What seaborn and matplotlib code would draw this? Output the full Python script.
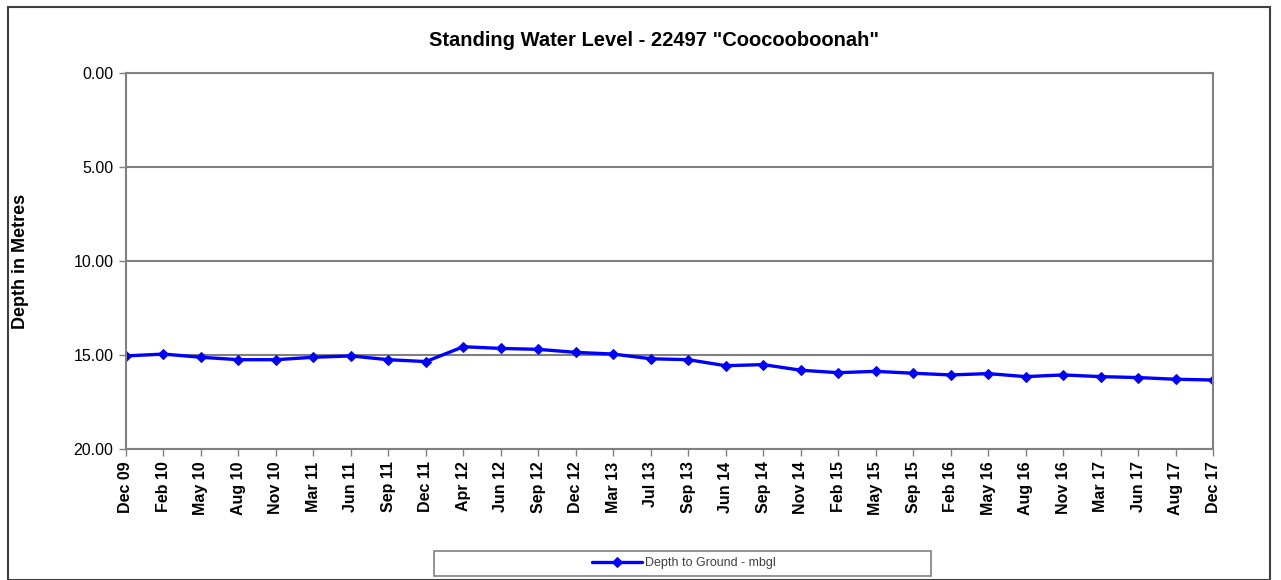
import numpy as np
import pandas as pd
import seaborn as sns
import matplotlib.pyplot as plt
from matplotlib.patches import Rectangle

# survey dates (category labels on the x axis)
dates = ["Dec 09", "Feb 10", "May 10", "Aug 10", "Nov 10", "Mar 11", "Jun 11",
         "Sep 11", "Dec 11", "Apr 12", "Jun 12", "Sep 12", "Dec 12", "Mar 13",
         "Jul 13", "Sep 13", "Jun 14", "Sep 14", "Nov 14", "Feb 15", "May 15",
         "Sep 15", "Feb 16", "May 16", "Aug 16", "Nov 16", "Mar 17", "Jun 17",
         "Aug 17", "Dec 17"]

# depth to ground in metres below ground level
depth = [15.05, 14.95, 15.12, 15.25, 15.25, 15.12, 15.05, 15.25, 15.35, 14.56,
         14.65, 14.70, 14.86, 14.95, 15.20, 15.25, 15.57, 15.51, 15.81, 15.94,
         15.87, 15.97, 16.06, 15.99, 16.15, 16.06, 16.15, 16.20, 16.29, 16.33]

y_ticks = [0, 5, 10, 15, 20]

df = pd.DataFrame({"pos": np.arange(len(dates)), "depth": depth})

sns.set_style("white")
plt.rcParams["font.family"] = ["Liberation Sans", "DejaVu Sans"]
plt.rcParams["text.color"] = "black"
plt.rcParams["xtick.color"] = "black"
plt.rcParams["ytick.color"] = "black"
plt.rcParams["axes.labelcolor"] = "black"

fig = plt.figure(figsize=(12.81, 5.80), dpi=100)
ax = fig.add_axes([126 / 1281, 1 - 449 / 580, 1087 / 1281, 376 / 580])

sns.lineplot(data=df, x="pos", y="depth", ax=ax, color="#0000FF", lw=2.4,
             marker="D", markersize=5.5, markeredgecolor="#0000FF",
             label="Depth to Ground - mbgl", legend=False)

ax.set_xlim(0, len(dates) - 1)
ax.set_ylim(20, 0)
ax.set_xticks(np.arange(len(dates)))
ax.set_xticklabels(dates, rotation=90, fontsize=11.5, fontweight="bold")
ax.set_yticks(y_ticks)
ax.set_yticklabels([f"{v:.2f}" for v in y_ticks], fontsize=11.5)
ax.tick_params(axis="both", direction="out", length=5, width=1,
               pad=4, bottom=True, left=True)
ax.tick_params(axis="both", color="#808080")
ax.yaxis.grid(True, color="#808080", lw=1.5)
ax.set_axisbelow(True)
for s in ax.spines.values():
    s.set_color("#808080")
    s.set_linewidth(1.5)

ax.set_xlabel("")
ax.set_ylabel("Depth in Metres", fontsize=13, fontweight="bold")
ax.yaxis.set_label_coords(-97 / 1087, 0.5)

fig.suptitle('Standing Water Level - 22497 "Coocooboonah"', fontsize=14.5,
             fontweight="bold", x=654 / 1281, y=1 - 40 / 580, va="center")

# legend box
fig.patches.append(Rectangle((434 / 1281, 1 - 576 / 580), 497 / 1281, 25 / 580,
                             transform=fig.transFigure, fill=False,
                             edgecolor="#808080", lw=1.2))
h, l = ax.get_legend_handles_labels()
fig.legend(h, l, loc="center", bbox_to_anchor=(684 / 1281, 1 - 563 / 580),
           frameon=False, fontsize=9, handlelength=4, handletextpad=0.2,
           labelcolor="#404040")

# outer chart border
fig.patches.append(Rectangle((8 / 1281, 0), 1262 / 1281, 1 - 7 / 580,
                             transform=fig.transFigure, fill=False,
                             edgecolor="#404040", lw=1.5))

fig.savefig("out.png", dpi=100)
